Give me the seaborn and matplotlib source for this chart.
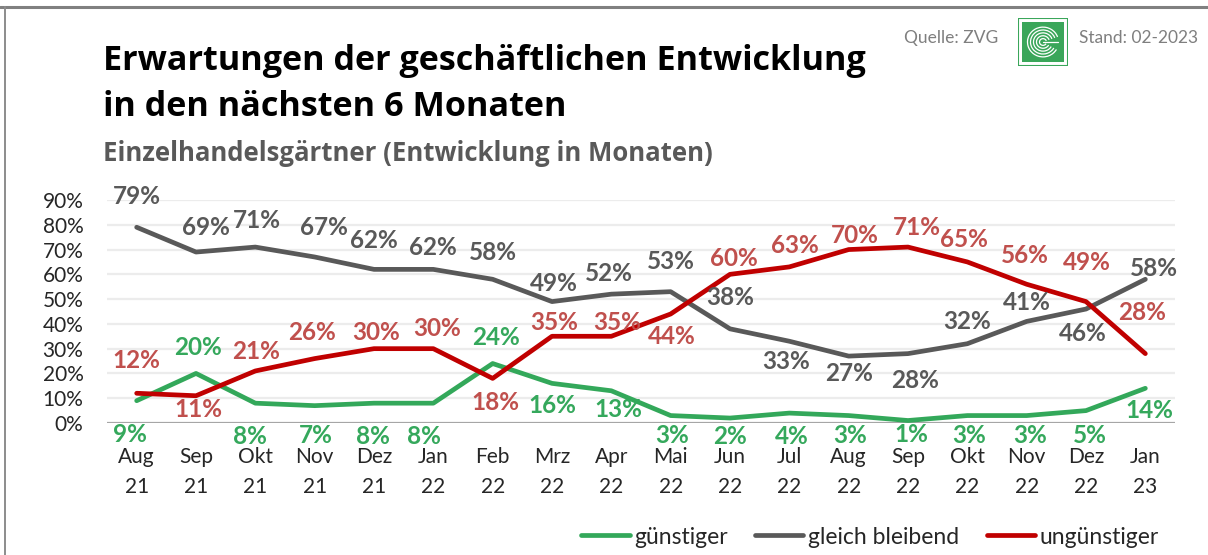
import numpy as np
import pandas as pd
import matplotlib
matplotlib.use("Agg")
import matplotlib.pyplot as plt
import seaborn as sns
from matplotlib.lines import Line2D
from matplotlib.patches import Rectangle, Arc

# data
monate = ["Aug\n21", "Sep\n21", "Okt\n21", "Nov\n21", "Dez\n21", "Jan\n22", "Feb\n22", "Mrz\n22", "Apr\n22",
          "Mai\n22", "Jun\n22", "Jul\n22", "Aug\n22", "Sep\n22", "Okt\n22", "Nov\n22", "Dez\n22", "Jan\n23"]
guenstiger = [9, 20, 8, 7, 8, 8, 24, 16, 13, 3, 2, 4, 3, 1, 3, 3, 5, 14]
gleich = [79, 69, 71, 67, 62, 62, 58, 49, 52, 53, 38, 33, 27, 28, 32, 41, 46, 58]
unguenstiger = [12, 11, 21, 26, 30, 30, 18, 35, 35, 44, 60, 63, 70, 71, 65, 56, 49, 28]
serien = ["günstiger", "gleich bleibend", "ungünstiger"]

# label placement (pixel offsets from the point)
green_off = [(-7, -34), (2, 26), (-5, -33), (1, -30), (-1, -33), (-9, -33), (3, 26), (0, -22), (7, -19),
             (1, -20), (0, -18), (2, -23), (1, -20), (3, -14), (2, -20), (3, -20), (4, -25), (4, -22)]
gray_off = [(0, 31), (10, 25), (2, 27), (9, 29), (0, 29), (0, 22), (0, 27), (2, 18), (-2, 21),
            (0, 30), (0, 31), (-3, -20), (0, -17), (7, -27), (0, 22), (0, 19), (-3, -24), (9, 11)]
red_off = [(0, 33), (2, -14), (1, 19), (-3, 26), (2, 16), (4, 20), (3, -24), (2, 14), (6, 14),
           (1, -23), (4, 16), (6, 21), (6, 14), (9, 20), (-3, 22), (-2, 29), (1, 39), (-3, 41)]

line_cols = {"günstiger": "#33a85a", "gleich bleibend": "#595959", "ungünstiger": "#c00000"}
lab_cols = {"günstiger": "#35a85c", "gleich bleibend": "#595959", "ungünstiger": "#c0504d"}

df = pd.DataFrame({
    "pos": list(range(len(monate))) * 3,
    "wert": guenstiger + gleich + unguenstiger,
    "serie": [s for s in serien for _ in monate],
})

sns.set_theme(style="white")
plt.rcParams["font.family"] = ["Lato", "DejaVu Sans"]

fig = plt.figure(figsize=(12.08, 5.55), dpi=100)
ax = fig.add_axes([107 / 1208, 1 - 423 / 555, (1175 - 107) / 1208, (423 - 200) / 555])

for v in range(10, 100, 10):
    ax.axhline(v, color="#ececec", lw=1.6, zorder=0)
ax.axhline(0, color="#a6a6a6", lw=1.6, zorder=1)

sns.lineplot(data=df, x="pos", y="wert", hue="serie", hue_order=serien, palette=line_cols,
             linewidth=3.4, legend=False, ax=ax, zorder=3)

for s, vals, offs in [("günstiger", guenstiger, green_off), ("gleich bleibend", gleich, gray_off),
                      ("ungünstiger", unguenstiger, red_off)]:
    for i, (v, o) in enumerate(zip(vals, offs)):
        ax.annotate(f"{v}%", (i, v), xytext=o, textcoords="offset pixels", ha="center", va="center",
                    fontsize=17.5, fontweight="bold", color=lab_cols[s], zorder=4)

ax.set_xlim(-0.5, 17.5)
ax.set_ylim(0, 90)
ax.set_xticks(range(len(monate)))
ax.set_xticklabels(monate, fontsize=15, color="#262626", linespacing=1.65)
ax.set_yticks(range(0, 100, 10))
ax.set_yticklabels([f"{v}%" for v in range(0, 100, 10)], fontsize=15, color="#262626")
ax.tick_params(axis="x", length=0, pad=17)
ax.tick_params(axis="y", length=0, pad=17)
ax.set_xlabel("")
ax.set_ylabel("")
for sp in ax.spines.values():
    sp.set_visible(False)
ax.set_facecolor("none")

# titles
tfont = ["Open Sans", "DejaVu Sans"]
fig.text(103 / 1208, 1 - 70 / 555, "Erwartungen der geschäftlichen Entwicklung", fontsize=24.6,
         fontweight="bold", color="black", va="baseline", family=tfont)
fig.text(103 / 1208, 1 - 116 / 555, "in den nächsten 6 Monaten", fontsize=24.6,
         fontweight="bold", color="black", va="baseline", family=tfont)
fig.text(103 / 1208, 1 - 161 / 555, "Einzelhandelsgärtner (Entwicklung in Monaten)", fontsize=18.5,
         fontweight="bold", color="#595959", va="baseline", family=tfont)
fig.text(998 / 1208, 1 - 38 / 555, "Quelle: ZVG", fontsize=12.5, color="#7f7f7f", ha="right", va="center")
fig.text(1079 / 1208, 1 - 38 / 555, "Stand: 02-2023", fontsize=12.5, color="#7f7f7f", ha="left", va="center")

# logo
lax = fig.add_axes([1018 / 1208, 1 - 66 / 555, 50 / 1208, 48 / 555])
lax.set_xlim(0, 1)
lax.set_ylim(0, 1)
lax.axis("off")
lax.add_patch(Rectangle((0, 0), 1, 1, facecolor="white", edgecolor="#3aa65a", lw=1.5))
lax.add_patch(Rectangle((0.08, 0.08), 0.84, 0.84, facecolor="#3aa65a", edgecolor="none"))
for r in [0.14, 0.26, 0.38, 0.5, 0.62]:
    lax.add_patch(Arc((0.5, 0.5), r, r, theta1=20, theta2=330, color="white", lw=0.9))
lax.plot([0.5, 0.8], [0.5, 0.5], color="white", lw=0.9)

# frame
fig.add_artist(Line2D([0, 1], [1 - 7 / 555, 1 - 7 / 555], color="#808080", lw=2.2))
fig.add_artist(Line2D([5 / 1208, 5 / 1208], [0, 1 - 7 / 555], color="#8c8c8c", lw=1.4))

# legend
handles = [Line2D([], [], color=line_cols[s], lw=3.4) for s in serien]
fig.legend(handles, serien, loc="center", bbox_to_anchor=(870 / 1208, 1 - 537 / 555), ncol=3,
           frameon=False, fontsize=16.5, handlelength=2.1, handletextpad=0.2, columnspacing=1.2,
           labelcolor="#262626")

fig.savefig("out.png", dpi=100)
